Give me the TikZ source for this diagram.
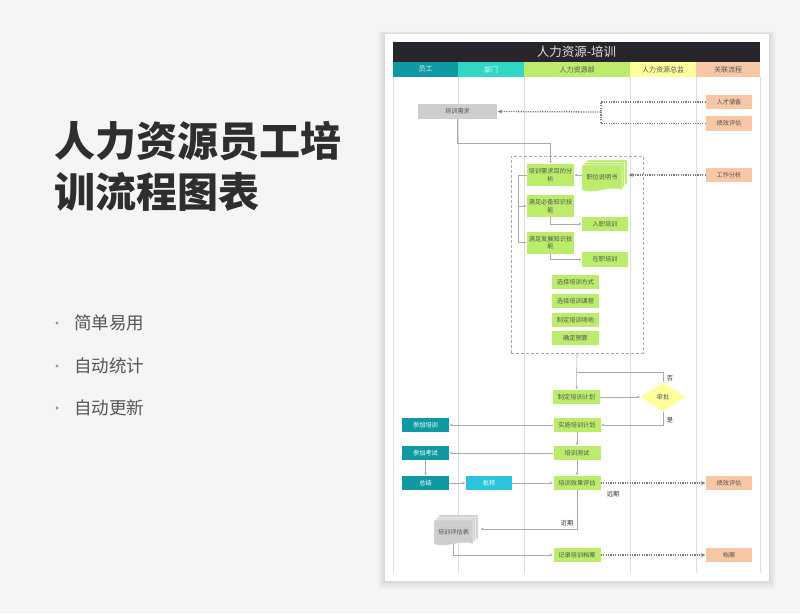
\documentclass[tikz,border=0pt]{standalone}
\usepackage{fontspec}
\setmainfont{Noto Sans CJK SC}
\usetikzlibrary{arrows.meta,positioning,calc,backgrounds,shapes.geometric}
\definecolor{pagebg}{HTML}{F4F5F7}
\definecolor{hrbar}{HTML}{29252C}
\definecolor{hrteal}{HTML}{0F9AA3}
\definecolor{hrturq}{HTML}{2FD7C4}
\definecolor{hrcyan}{HTML}{2BC4DC}
\definecolor{hrgreen}{HTML}{BBEC6B}
\definecolor{hryellow}{HTML}{FFFF9C}
\definecolor{hrpeach}{HTML}{F8C7A5}
\definecolor{hrgrey}{HTML}{CECECE}
\definecolor{lanegrey}{HTML}{DEDEDE}
\definecolor{linegrey}{HTML}{ABABAB}
\definecolor{dotgrey}{HTML}{7C7C7C}
\definecolor{txtdark}{HTML}{2E2E2E}
\definecolor{txtgrey}{HTML}{555555}
\newcommand{\boxfont}{\fontsize{6.2}{7.4}\selectfont}
\tikzset{
  hcell/.style={minimum height=15pt, inner sep=0pt, font=\fontsize{7}{8}\selectfont,
                text=txtgrey},
  hrbox/.style={fill=hrgreen, minimum width=47pt, minimum height=14.5pt,
                inner sep=1pt, align=center, font=\boxfont, text=txtgrey},
  staffbox/.style={hrbox, fill=hrteal, text=white},
  linkbox/.style={hrbox, fill=hrpeach, minimum width=46pt},
  docnode/.style={inner sep=0pt, font=\boxfont, text=txtgrey},
  dashbox/.style={draw=linegrey, densely dashed, line width=0.6pt},
  conn/.style={-{Latex[length=3pt,width=2.6pt]}, draw=linegrey, line width=0.6pt},
  plainconn/.style={draw=linegrey, line width=0.6pt},
  dotline/.style={draw=dotgrey, line width=1.3pt, dash pattern=on 1.2pt off 1.2pt},
  dotconn/.style={dotline, -{Latex[length=4.5pt,width=4pt]}},
  lane/.style={draw=lanegrey, line width=0.6pt},
  flag/.style={font=\boxfont, text=txtdark, inner sep=0pt},
}
% stacked document page behind a node
\newcommand{\docpage}[3]{%
  \filldraw[fill=#3, draw=white, line width=0.5pt]
    ([xshift=#2,yshift=#2]#1.north west) -- ([xshift=#2,yshift=#2]#1.north east)
    -- ([xshift=#2,yshift=#2]#1.south east)
    .. controls ([xshift=#2+8pt,yshift=#2+5pt]#1.south) and ([xshift=#2-8pt,yshift=#2-5pt]#1.south) ..
    ([xshift=#2,yshift=#2]#1.south west) -- cycle;}

\begin{document}
\begin{tikzpicture}[x=1pt, y=-1pt]
  \useasboundingbox (0,0) rectangle (800,613);
  \begin{scope}[on background layer]
    \fill[pagebg] (0,0) rectangle (800,613);
    \foreach \s in {1,...,7}
      \fill[black, opacity=0.014] (385-\s,34-\s*0.4) rectangle (769+\s,581+\s*1.1);
    \fill[white] (385,34) rectangle (769,581);
    \foreach \lx in {393,458,524,630,696,760}
      \draw[lane] (\lx,77) -- (\lx,573);
  \end{scope}

  % --- left: title and bullets ---
  \node[anchor=base west, inner sep=0pt, font=\fontsize{41}{48}\selectfont\bfseries,
        text=txtdark] (title1) at (54,156) {人力资源员工培};
  \node[anchor=base west, inner sep=0pt, font=\fontsize{41}{48}\selectfont\bfseries,
        text=txtdark] (title2) at (54,207) {训流程图表};
  \foreach \by/\btxt [count=\i] in {323/简单易用, 366/自动统计, 408/自动更新} {
    \fill[dotgrey!80] (57,\by) circle (1.6);
    \node[anchor=west, inner sep=0pt, font=\fontsize{17.5}{20}\selectfont,
          text=txtgrey] (bullet\i) at (74,\by) {\btxt};
  }

  % --- header ---
  \node[fill=hrbar, minimum width=367pt, minimum height=20pt, inner sep=0pt,
        font=\fontsize{12.5}{14}\selectfont, text=white!88!black] (bar) at (576.5,52) {人力资源-培训};
  \node[hcell, fill=hrteal, minimum width=65pt, text=white!85!hrteal] (hstaff) at (425.5,69.5) {员工};
  \node[hcell, fill=hrturq, minimum width=66pt, text=white!85!hrturq] (hdept) at (491,69.5) {部门};
  \node[hcell, fill=hrgreen, minimum width=106pt] (hhr) at (577,69.5) {人力资源部};
  \node[hcell, fill=hryellow, minimum width=66pt] (hdir) at (663,69.5) {人力资源总监};
  \node[hcell, fill=hrpeach, minimum width=64pt] (hlink) at (728,69.5) {关联流程};

  % --- demand ---
  \node[hrbox, fill=hrgrey, minimum width=79pt, minimum height=15pt] (need) at (457.5,111.5) {培训需求};
  \node[linkbox] (talent) at (729,102) {人才储备};
  \node[linkbox] (perfA)  at (729,123.5) {绩效评估};
  \coordinate (jn) at (601,112);
  \draw[dotline] (talent.west) -| (jn);
  \draw[dotline] (perfA.west) -| (jn);
  \draw[dotconn] (jn) -- (need.east);

  % --- analysis block ---
  \node[dashbox, minimum width=132pt, minimum height=197pt] (plan) at (577,254.5) {};
  \node[hrbox, minimum height=22pt] (goal) at (550.5,175) {培训需求目的分\\析};
  \node[docnode, minimum width=40pt, minimum height=25pt] (post) at (602,177.5) {职位说明书};
  \node[linkbox] (work) at (729,175) {工作分析};
  \node[hrbox, minimum height=22pt] (must) at (550.5,206) {满足必备知识技\\能};
  \node[hrbox, minimum width=46pt] (entry) at (605,224) {入职培训};
  \node[hrbox, minimum height=22pt] (dev) at (550.5,242.5) {满足发展知识技\\能};
  \node[hrbox, minimum width=46pt] (onjob) at (605,259.5) {在职培训};
  \node[hrbox] (way)    at (575.5,282) {选择培训方式};
  \node[hrbox] (course) at (575.5,301) {选择培训课程};
  \node[hrbox] (site)   at (575.5,320) {制定培训场地};
  \node[hrbox] (budget) at (575.5,338) {确定预算};
  \begin{scope}[on background layer]
    \docpage{post}{5pt}{hrgreen}
    \docpage{post}{2.5pt}{hrgreen}
    \docpage{post}{0pt}{hrgreen}
  \end{scope}
  \coordinate (postR) at ([xshift=6pt]post.east);

  \draw[conn] (need.south) -- ++(0,24) -| (goal.north);
  \draw[conn] (post.west |- goal) -- (goal.east);
  \draw[dotconn] (work.west) -- (postR |- work);
  \draw[conn] (goal.west) -- ++(-9,0) |- (must.west);
  \draw[conn] (goal.west) -- ++(-9,0) |- (dev.west);
  \draw[conn] (must.south) |- (entry.west);
  \draw[conn] (dev.south) |- (onjob.west);

  % --- plan and approval ---
  \node[hrbox] (mkplan) at (576.5,397) {制定培训计划};
  \node[diamond, fill=hryellow, minimum width=45pt, minimum height=29pt, aspect=1.55,
        inner sep=0pt, font=\boxfont, text=txtgrey] (appr) at (663,397) {审批};
  \node[hrbox] (doit) at (577,425) {实施培训计划};
  \draw[conn] (plan.south) -- (mkplan.north);
  \draw[plainconn] (appr.north) |- ($(plan.south)+(0,19)$);
  \draw[conn] (mkplan.east) -- (appr.west);
  \draw[conn] (appr.south) |- (doit.east);
  \node[flag] (no)  at (670,378) {否};
  \node[flag] (yes) at (670,420) {是};

  % --- training and evaluation ---
  \node[staffbox] (attend) at (425.5,425) {参加培训};
  \node[hrbox]    (test)   at (577,453) {培训测试};
  \node[staffbox] (exam)   at (425.5,453) {参加考试};
  \node[staffbox] (sum)    at (425.5,483) {总结};
  \node[hrbox, fill=hrcyan, text=white, minimum width=46pt] (relay) at (489,483) {批转};
  \node[hrbox]    (eval)   at (577,483) {培训效果评估};
  \node[linkbox]  (perfB)  at (729,483) {绩效评估};
  \node[docnode, minimum width=39pt, minimum height=24pt] (form) at (453.5,532) {培训评估表};
  \begin{scope}[on background layer]
    \docpage{form}{5pt}{hrgrey}
    \docpage{form}{2.5pt}{hrgrey}
    \docpage{form}{0pt}{hrgrey}
  \end{scope}
  \coordinate (formR) at ([xshift=7pt,yshift=3pt]form.east);
  \node[hrbox]   (record)  at (577,555) {记录培训档案};
  \node[linkbox] (archive) at (729,555) {档案};

  \draw[conn] (doit.west) -- (attend.east);
  \draw[conn] (doit.south) -- (test.north);
  \draw[conn] (test.west) -- (exam.east);
  \draw[conn] (exam.south) -- (sum.north);
  \draw[conn] (sum.east) -- (relay.west);
  \draw[conn] (relay.east) -- (eval.west);
  \draw[conn] (test.south) -- (eval.north);
  \draw[dotconn] (eval.east) -- (perfB.west);
  \draw[conn] (eval.south) |- (formR);
  \draw[conn] (form.south) |- (record.west);
  \draw[dotconn] (record.east) -- (archive.west);
  \node[flag] (far)  at (613,494) {远期};
  \node[flag] (near) at (567,523) {近期};
\end{tikzpicture}
\end{document}
